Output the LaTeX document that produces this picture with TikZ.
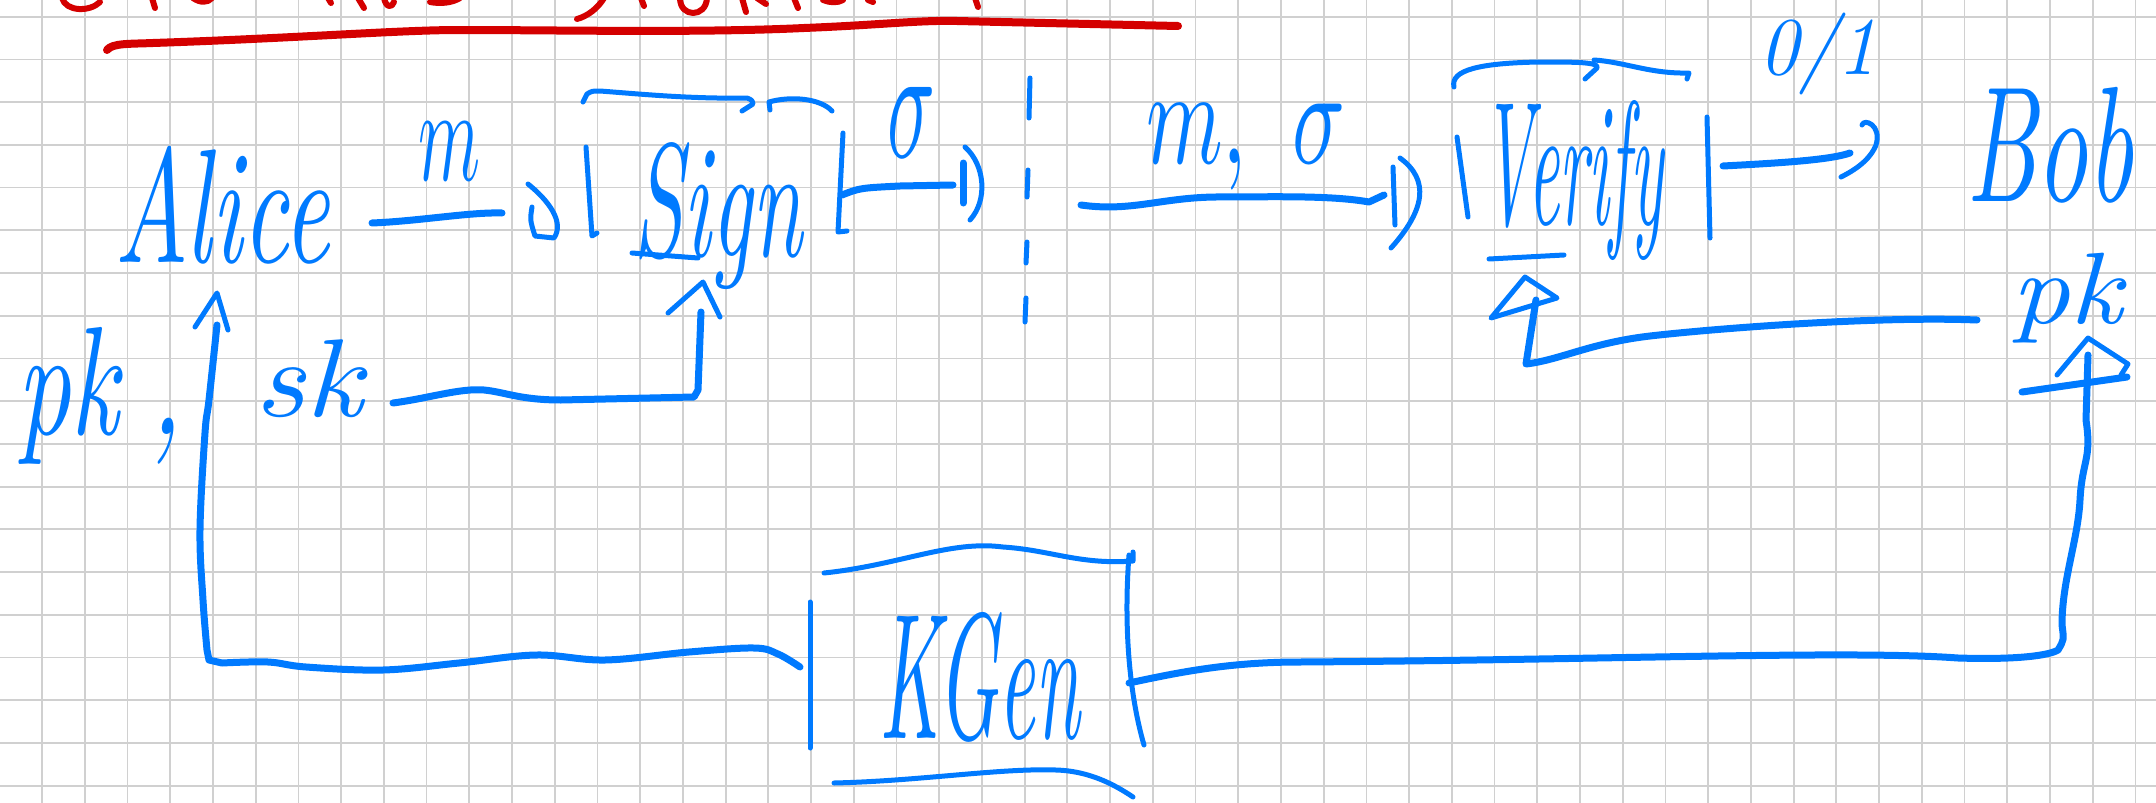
\documentclass[tikz,border=0pt]{standalone}
\usepackage{graphicx}
\usetikzlibrary{calc}
\definecolor{ink}{RGB}{0,122,255}
\definecolor{redink}{RGB}{212,0,0}
\definecolor{gridc}{RGB}{208,208,208}
\newcommand\hw[3]{\resizebox*{#1pt}{#2pt}{\itshape #3}}
\begin{document}
\begin{tikzpicture}[x=1pt,y=-1pt,
  conn/.style={draw=ink,line width=7pt,line cap=round,line join=round},
  pen/.style={draw=ink,line width=5pt,line cap=round,line join=round},
  lbl/.style={text=ink,inner sep=0pt,outer sep=0pt},
  redpen/.style={draw=redink,line width=6pt,line cap=round,line join=round},
  gridline/.style={draw=gridc,line width=1.8pt}]
\useasboundingbox (0,0) rectangle (2156,803);
\fill[white] (0,0) rectangle (2156,803);
\begin{scope}
\clip (0,0) rectangle (2156,803);
\foreach \k in {0,...,49} \draw[gridline] ({42.1+42.72*\k},0) -- ({42.1+42.72*\k},803);
\foreach \k in {0,...,18} \draw[gridline] (0,{16.7+42.72*\k}) -- (2156,{16.7+42.72*\k});
% red title fragments (cut off at the top)
\draw[redpen] (62,-2) .. controls (66,12) and (90,12) .. (100,2);
\draw[redpen] (152,-2) -- (155,8);
\draw[redpen] (193,-2) .. controls (200,3) and (208,3) .. (212,-2);
\draw[redpen] (328,-2) -- (331,3);
\draw[redpen] (358,-2) -- (364,8);
\draw[redpen] (384,-2) .. controls (386,8) and (392,8) .. (394,2);
\draw[redpen] (430,2) .. controls (440,4) and (452,3) .. (460,-2);
\draw[redpen] (604,-2) .. controls (598,8) and (588,16) .. (577,19);
\draw[redpen] (641,-2) -- (644,6);
\draw[redpen] (680,-2) .. controls (680,18) and (706,18) .. (707,-2);
\draw[redpen] (742,-2) -- (746,12);
\draw[redpen] (757,-2) -- (766,4);
\draw[redpen] (794,-2) -- (798,8);
\draw[redpen] (823,0) .. controls (830,3) and (838,3) .. (843,0);
\draw[redpen] (868,0) -- (873,2);
\draw[redpen] (975,-2) -- (978,7);
\end{scope}
% red underline
\draw[redpen,line width=8pt] (107,50) .. controls (112,43) and (130,44) .. (153,43)
  .. controls (300,38) and (400,30) .. (459,30) .. controls (560,30) and (700,33) .. (804,28)
  .. controls (880,25) and (920,20) .. (957,21) -- (1178,26);

% text
\node[lbl] (alice) at (222,205) {\hw{215}{118}{Alice}};
\node[lbl] (mA) at (450,151) {\hw{62}{58}{$m$}};
\node[lbl] (sign) at (718,216) {\hw{168}{147}{Sign}};
\node[lbl] (sigma) at (912,122) {\hw{48}{70}{$\sigma$}};
\node[lbl] (msig) at (1246,147) {\hw{200}{86}{$m,\ \sigma$}};
\node[lbl] (verify) at (1573,181) {\hw{180}{160}{Verify}};
\node[lbl] (out) at (1818,54) {\hw{118}{82}{0/1}};
\node[lbl] (bob) at (2050,145) {\hw{168}{116}{Bob}};
\node[lbl] (pkB) at (2067,298) {\hw{111}{90}{pk}};
\node[lbl] (pkA) at (100,396) {\hw{165}{137}{pk\hspace{0.3em},}};
\node[lbl] (skA) at (309,379) {\hw{108}{78}{sk}};
\node[lbl] (kgen) at (980,677) {\hw{200}{130}{KGen}};

% Sign box
\draw[pen] (583,102) -- (587,94) .. controls (592,91) .. (600,91) .. controls (640,94) and (690,99) .. (747,98) .. controls (752,100) .. (753,104) -- (742,111);
\draw[pen] (770,110) -- (769,102) .. controls (790,96) and (820,98) .. (832,111);
\draw[pen] (586,147) -- (592,236) -- (597,233);
\draw[pen] (843,133) -- (838,232) -- (847,231);
\draw[pen] (632,253) -- (698,258);
% Verify box
\draw[pen] (1454,87) .. controls (1450,70) and (1480,63) .. (1540,62) .. controls (1575,62) and (1600,62) .. (1597,68) -- (1585,79);
\draw[pen] (1594,60) .. controls (1625,62) and (1650,74) .. (1689,73) -- (1687,79);
\draw[pen] (1457,137) -- (1468,217);
\draw[pen] (1707,117) -- (1710,238);
\draw[pen] (1489,259) -- (1564,255);
% KGen box
\draw[pen] (824,573) .. controls (900,565) and (950,540) .. (1003,547) .. controls (1050,550) and (1080,565) .. (1133,561) -- (1133,552);
\draw[pen] (810,602) -- (810,748);
\draw[pen] (1129,555) .. controls (1124,620) and (1128,690) .. (1144,745);
\draw[pen] (834,783) .. controls (920,781) and (1000,768) .. (1056,770) .. controls (1090,771) and (1115,785) .. (1133,797);

% Alice -> Sign
\draw[conn] (372,223) .. controls (420,221) and (470,212) .. (502,213);
\draw[pen] (528,184) .. controls (548,200) and (565,222) .. (554,238) -- (535,236) .. controls (530,220) .. (532,207);
% Sign -> sigma
\draw[conn] (842,195) .. controls (860,188) .. (900,186) -- (953,185);
\draw[conn] (963,163) -- (963,203);
\draw[pen] (965,147) .. controls (985,165) and (988,200) .. (970,220);
% dashed separator
\draw[pen] (1030,78) -- (1029,118);
\draw[pen] (1028,170) -- (1027,197);
\draw[pen] (1027,242) -- (1026,263);
\draw[pen] (1026,298) -- (1025,322);
% m,sigma -> Verify
\draw[conn] (1081,205) .. controls (1130,212) and (1160,198) .. (1214,197) .. controls (1270,197) and (1330,195) .. (1369,202) -- (1384,195);
\draw[pen] (1393,167) -- (1395,225);
\draw[pen] (1400,158) .. controls (1430,180) and (1425,210) .. (1391,248);
% Verify -> 0/1
\draw[conn] (1723,166) .. controls (1780,163) and (1830,160) .. (1850,153);
\draw[pen] (1862,125) .. controls (1864,118) and (1882,125) .. (1876,145) .. controls (1870,160) and (1855,170) .. (1841,177);
% Bob pk -> Verify
\draw[conn] (1977,320) .. controls (1880,316) and (1720,328) .. (1650,336) .. controls (1590,343) and (1560,360) .. (1526,364) -- (1536,300);
\draw[pen] (1491,318) -- (1525,277) -- (1557,298) -- cycle;
% KGen -> Bob pk
\draw[conn] (1129,683) .. controls (1180,672) and (1230,662) .. (1300,662) .. controls (1600,660) and (1850,650) .. (1958,658) .. controls (2020,660) and (2050,655) .. (2058,650) .. controls (2064,640) .. (2062,625) .. controls (2062,580) and (2078,540) .. (2080,500) .. controls (2082,460) and (2092,460) .. (2086,420) -- (2088,355);
\draw[pen] (2057,375) -- (2088,338) -- (2128,364) -- (2121,375);
\draw[conn] (2022,392) -- (2127,377);
% KGen -> Alice pk, sk
\draw[conn] plot[smooth,tension=0.6] coordinates {(800,667) (778,654) (754,648) (689,652) (605,660) (536,655) (459,663) (383,670) (306,667) (268,662) (222,663)} -- (209,660) -- plot[smooth,tension=0.6] coordinates {(207,650) (203,600) (200,530) (205,433) (209,400) (217,325)};
\draw[pen] (195,327) -- (217,293) -- (228,330);
% sk -> Sign
\draw[conn] (393,403) .. controls (430,398) and (460,388) .. (484,390) .. controls (505,392) and (520,400) .. (561,400) -- (694,397) -- (698,390) -- (701,312);
\draw[pen] (668,313) -- (703,282) -- (720,317);
\end{tikzpicture}
\end{document}
